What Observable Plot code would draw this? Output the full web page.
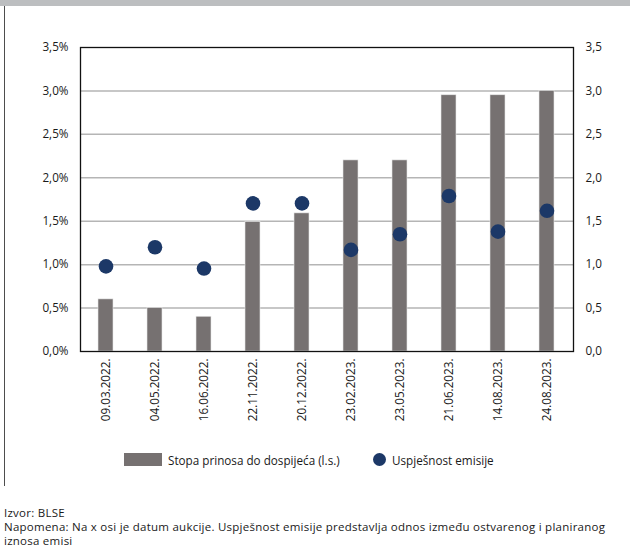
<!DOCTYPE html>
<html>
<head>
<meta charset="utf-8">
<script src="https://cdn.jsdelivr.net/npm/d3@7"></script>
<script src="https://cdn.jsdelivr.net/npm/@observablehq/plot@0.6"></script>
<style>
  html, body { margin: 0; padding: 0; background: #fff; }
  #wrap { position: relative; width: 630px; height: 548px; overflow: hidden; font-family: "Open Sans", "Noto Sans", sans-serif; color: #1a1a1a; }
  #band { position: absolute; left: 0; top: 0; width: 630px; height: 6px; background: #bcbec0; }
  #lborder { position: absolute; left: 4px; top: 6px; width: 1px; height: 480px; background: #4d4d4d; }
  #chart { position: absolute; left: 0; top: 0; }
  #legend { position: absolute; left: 0; top: 451px; width: 630px; height: 18px; font-size: 11.7px; }
  .sw { position: absolute; }
  .lt { position: absolute; top: 1px; white-space: nowrap; }
  #caption { position: absolute; left: 4px; top: 506px; font-size: 11.5px; letter-spacing: 0.25px; white-space: nowrap; }
  #caption div { height: 14px; line-height: 14px; }
</style>
</head>
<body>
<div id="wrap">
  <div id="band"></div>
  <div id="lborder"></div>
  <div id="chart"></div>
  <div id="legend">
    <div class="sw" style="left:124px;top:2px;width:38px;height:13px;background:#767171;"></div>
    <div class="lt" style="left:168px;">Stopa prinosa do dospijeća (l.s.)</div>
    <div class="sw" style="left:373px;top:2px;width:13px;height:13px;border-radius:50%;background:#1c3867;"></div>
    <div class="lt" style="left:392px;">Uspješnost emisije</div>
  </div>
  <div id="caption">
    <div>Izvor: BLSE</div>
    <div>Napomena: Na x osi je datum aukcije. Uspješnost emisije predstavlja odnos između ostvarenog i planiranog</div>
    <div>iznosa emisi</div>
  </div>
</div>
<script>
const dates = ["09.03.2022.","04.05.2022.","16.06.2022.","22.11.2022.","20.12.2022.","23.02.2023.","23.05.2023.","21.06.2023.","14.08.2023.","24.08.2023."];
const yieldRate = [0.6, 0.5, 0.4, 1.49, 1.59, 2.2, 2.2, 2.95, 2.95, 3.0];
const success = [0.98, 1.2, 0.955, 1.705, 1.705, 1.17, 1.35, 1.79, 1.38, 1.62];
const yTicks = [0, 0.5, 1.0, 1.5, 2.0, 2.5, 3.0, 3.5];

const data = dates.map((d, i) => ({date: d, y: yieldRate[i], s: success[i]}));
const fmt = v => v.toFixed(1).replace(".", ",");

const chart = Plot.plot({
  width: 630,
  height: 440,
  marginLeft: 80,
  marginRight: 57,
  marginTop: 47,
  marginBottom: 89,
  style: {fontFamily: "'Open Sans', 'Noto Sans', sans-serif", fontSize: "11.7px", color: "#1a1a1a", background: "transparent"},
  x: {domain: dates, paddingInner: 0.69, paddingOuter: 0.345, label: null},
  y: {domain: [0, 3.5], label: null},
  marks: [
    Plot.gridY(yTicks.filter(t => t > 0 && t < 3.5), {stroke: "#b5b5b5", strokeOpacity: 1, strokeWidth: 1.5}),
    Plot.barY(data, {x: "date", y: "y", fill: "#767171", stroke: "#e6e6e6", strokeWidth: 0.6}),
    Plot.dot(data, {x: "date", y: "s", r: 7.3, fill: "#1c3867", stroke: "none"}),
    Plot.frame({stroke: "#111", strokeWidth: 1.3}),
    Plot.axisY(yTicks, {anchor: "left", tickSize: 0, tickPadding: 12, tickFormat: v => fmt(v) + "%", fill: "#1a1a1a"}),
    Plot.axisY(yTicks, {anchor: "right", tickSize: 0, tickPadding: 12, tickFormat: v => fmt(v), fill: "#1a1a1a"}),
    Plot.axisX({tickSize: 0, tickPadding: 7, tickRotate: -90, fill: "#1a1a1a"})
  ]
});
document.getElementById("chart").appendChild(chart);
</script>
</body>
</html>
